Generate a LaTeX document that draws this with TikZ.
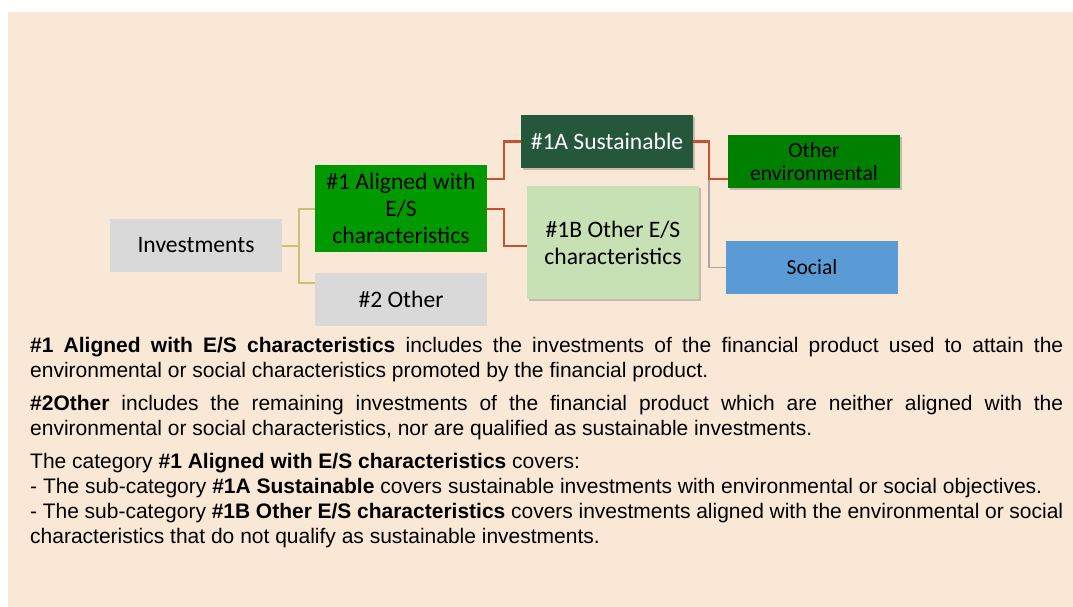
\documentclass[tikz,border=0pt]{standalone}
\usepackage{fontspec}
\setmainfont{Liberation Sans}
\newfontfamily\calibri{Carlito}
\usetikzlibrary{shadows}
\definecolor{peach}{RGB}{250,232,215}
\definecolor{greybox}{RGB}{217,217,217}
\definecolor{aligngreen}{RGB}{0,153,0}
\definecolor{darkgreen}{RGB}{37,87,59}
\definecolor{lightgreen}{RGB}{199,224,180}
\definecolor{envgreen}{RGB}{0,128,0}
\definecolor{socialblue}{RGB}{91,155,213}
\definecolor{olivec}{RGB}{204,192,120}
\definecolor{redc}{RGB}{200,82,48}
\definecolor{greyc}{RGB}{166,166,166}
\hyphenpenalty=10000
\exhyphenpenalty=10000
\begin{document}
\begin{tikzpicture}[x=1pt,y=-1pt,
  box/.style={rectangle, inner sep=0pt, align=center, minimum width=172pt, minimum height=53pt,
    font=\calibri\fontsize{23.6}{27}\selectfont, text=black},
  smallbox/.style={box, font=\calibri\fontsize{21.6}{23.5}\selectfont},
  shad/.style={drop shadow={shadow xshift=1.5pt,shadow yshift=-2pt,opacity=0.35,fill=black!60}},
  olc/.style={draw=olivec, line width=2pt},
  rc/.style={draw=redc, line width=2pt},
  gc/.style={draw=greyc, line width=1.6pt},
  para/.style={anchor=north west, inner sep=0pt, text width=1033pt, align=justify,
    font=\fontsize{21}{25}\selectfont}
]
\useasboundingbox (0,0) rectangle (1073,607);
\fill[white] (0,0) rectangle (1073,607);
\fill[peach] (8,12) rectangle (1073,607);

% nodes
\node[box, fill=greybox] (inv) at (196,245.5) {Investments};
\node[box, fill=aligngreen, minimum height=87pt] (al) at (401,208.5) {\#1 Aligned with\\E/S\\characteristics};
\node[box, fill=greybox] (oth) at (401,299.5) {\#2 Other};
\node[box, fill=darkgreen, text=white, shad] (sa) at (607,141.5) {\#1A Sustainable};
\node[box, fill=lightgreen, minimum height=113pt, shad] (ob) at (613,242.5) {\#1B Other E/S\\characteristics};
\node[smallbox, fill=envgreen, shad] (oe) at (814,161.5) {Other\\environmental};
\node[smallbox, fill=socialblue] (so) at (812,267.5) {Social};

% connectors
\coordinate (k) at ([yshift=-17.5pt]oe.west);
\draw[olc] (inv.east) -- ++(17,0) coordinate (j1);
\draw[olc] (j1) |- (al.west);
\draw[olc] (j1) |- ([yshift=16.5pt]oth.west);
\draw[rc] ([yshift=29.5pt]al.east) -- ++(17,0) |- (sa.west);
\draw[rc] (al.east) -- ++(17,0) |- ([yshift=-3.5pt]ob.west);
\path (sa.east) ++(16,0) coordinate (j2);
\draw[gc] (j2 |- k) |- (so.west);
\draw[rc] (sa.east) -- (j2) |- (k);

% text
\node[para] (p1) at (30,334.5) {\strut\textbf{\#1 Aligned with E/S characteristics} includes the investments of the financial product used to attain the\linebreak environmental or social characteristics promoted by the financial product.};
\node[para] (p2) at (30,392.5) {\strut\textbf{\#2Other} includes the remaining investments of the financial product which are neither aligned with the\linebreak environmental or social characteristics, nor are qualified as sustainable investments.};
\node[para] (p3) at (30,450.5) {\strut The category \textbf{\#1 Aligned with E/S characteristics} covers:\\- The sub-category \textbf{\#1A Sustainable} covers sustainable investments with environmental or social objectives.\\- The sub-category \textbf{\#1B Other E/S characteristics} covers investments aligned with the environmental or social\linebreak characteristics that do not qualify as sustainable investments.};
\end{tikzpicture}
\end{document}
